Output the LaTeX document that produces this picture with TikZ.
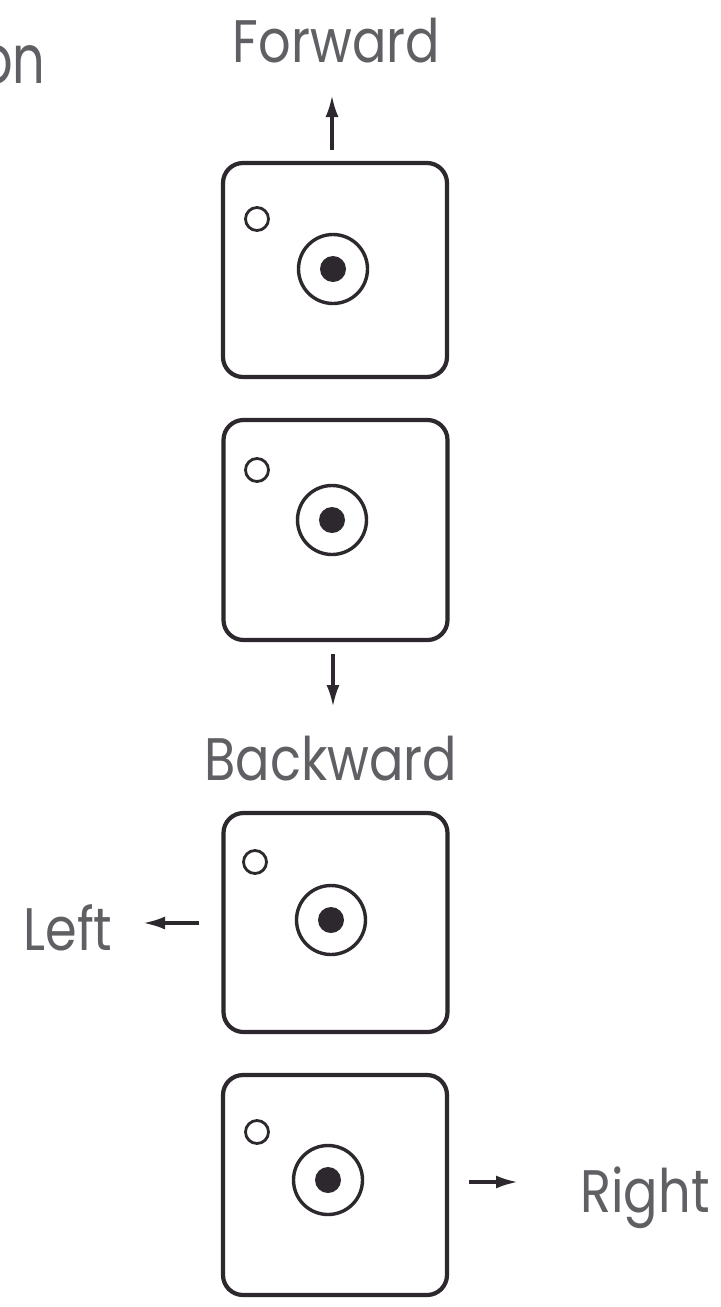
\documentclass[tikz,border=0pt]{standalone}
\usepackage{fontspec}
\setmainfont{Poppins}[FakeStretch=0.85]
\usetikzlibrary{arrows.meta}
\definecolor{ink}{RGB}{45,40,45}
\definecolor{txt}{RGB}{95,95,100}
\begin{document}
\begin{tikzpicture}[x=0.5pt,y=-0.5pt,
  pad/.style={draw=ink, line width=2.1pt, rounded corners=10pt, minimum width=112pt, inner sep=0pt},
  led/.style={circle, draw=ink, line width=1.4pt, minimum size=11.5pt, inner sep=0pt},
  ring/.style={circle, draw=ink, line width=1.7pt, minimum size=34.5pt, inner sep=0pt},
  dot/.style={circle, fill=ink, minimum size=13pt, inner sep=0pt},
  lbl/.style={text=txt, font=\fontsize{30}{30}\selectfont, inner sep=0pt},
  arr/.style={draw=ink, line width=1.7pt, -{Latex[length=11pt,width=6.5pt]}}]
\useasboundingbox[fill=white] (0,0) rectangle (720,1307);

% title fragment (cut by the left edge, as in the reference)
\node[lbl, font=\fontsize{34}{34}\selectfont\addfontfeature{FakeStretch=0.75}, anchor=base east] (title) at (46,83) {on};

% pads
\node[pad, minimum height=107pt] (p1) at (335,270) {};
\node[pad, minimum height=110pt] (p2) at (335.5,530) {};
\node[pad, minimum height=109.5pt] (p3) at (335.5,922.5) {};
\node[pad, minimum height=110pt] (p4) at (335,1185) {};

% lights and knobs
\node[led] (l1) at (257,219) {};
\node[ring] (r1) at (333,269) {};
\node[dot] (d1) at (333,269) {};

\node[led] (l2) at (257,470) {};
\node[ring] (r2) at (332,520) {};
\node[dot] (d2) at (332,520) {};

\node[led] (l3) at (255,862) {};
\node[ring] (r3) at (331,920) {};
\node[dot] (d3) at (331,920) {};

\node[led] (l4) at (257,1132) {};
\node[ring] (r4) at (328,1180) {};
\node[dot] (d4) at (328,1180) {};

% labels
\node[lbl, anchor=base] (fwd) at (336.5,62) {Forward};
\node[lbl, anchor=base] (bwd) at (331,780) {Backward};
\node[lbl, anchor=base west] (lft) at (23,950) {Left};
\node[lbl, anchor=base west] (rgt) at (580,1212) {Right};

% direction arrows
\coordinate (fwdtip) at (332,95);
\coordinate (bwdtip) at (333,707);
\coordinate (lfttip) at (143,923);
\coordinate (rgttip) at (518,1182);
\draw[arr, shorten <=11pt/2] (p1.north -| fwdtip) -- (fwdtip);
\draw[arr, shorten <=12pt/2] (p2.south -| bwdtip) -- (bwdtip);
\draw[arr, shorten <=22pt/2] (p3.west |- lfttip) -- (lfttip);
\draw[arr, shorten <=20pt/2] (p4.east |- rgttip) -- (rgttip);
\end{tikzpicture}
\end{document}
